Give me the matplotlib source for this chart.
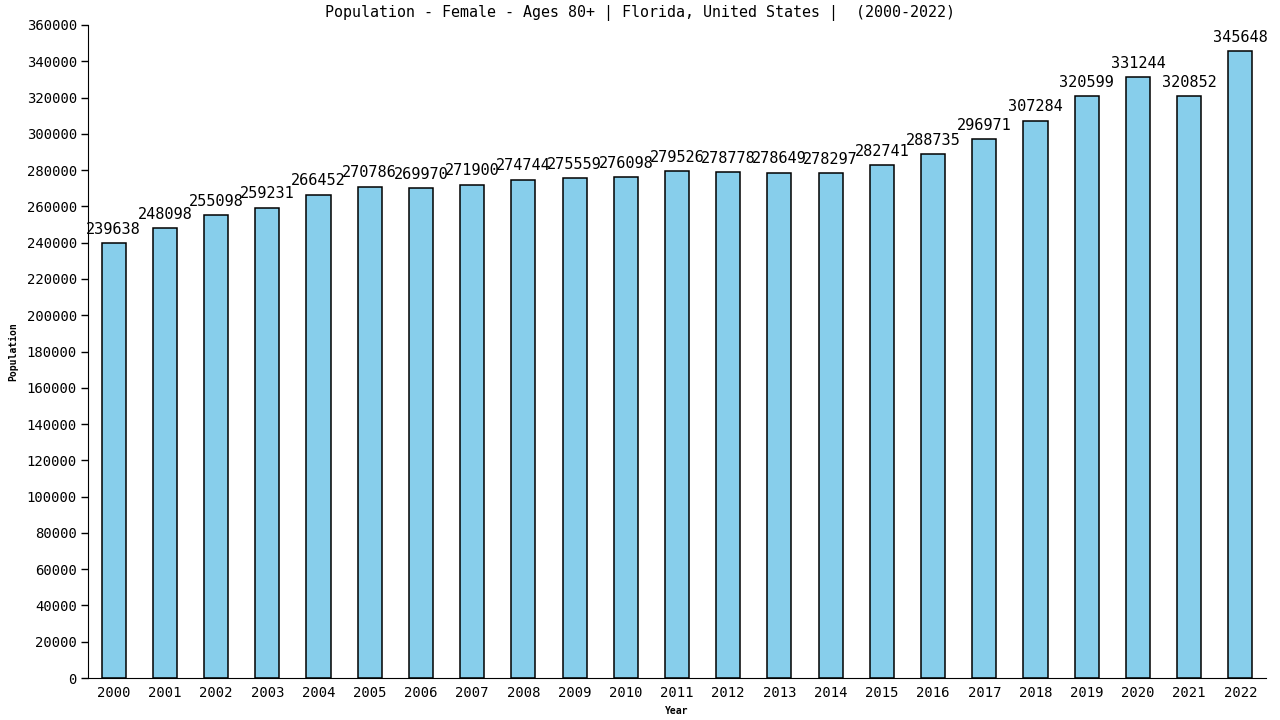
import matplotlib.pyplot as plt
import numpy as np

years = [str(y) for y in range(2000, 2023)]
population = [239638, 248098, 255098, 259231, 266452, 270786, 269970, 271900,
              274744, 275559, 276098, 279526, 278778, 278649, 278297, 282741,
              288735, 296971, 307284, 320599, 331244, 320852, 345648]
y_ticks = list(range(0, 360001, 20000))

plt.rcParams['font.family'] = ['DejaVu Sans Mono']

fig = plt.figure(figsize=(12.8, 7.2), dpi=100)
ax = fig.add_axes([88 / 1280, 42 / 720, 1178 / 1280, 653 / 720])

x = np.arange(len(years))
ax.bar(x, population, width=0.47, color='#87CEEB', edgecolor='black', linewidth=1.1)

for xi, v in zip(x, population):
    ax.text(xi, v + 3500, str(v), ha='center', va='bottom', fontsize=11)

ax.set_xlim(-0.5, len(years) - 0.5)
ax.set_ylim(0, 360000)
ax.set_yticks(y_ticks)
ax.set_yticklabels([str(t) for t in y_ticks], fontsize=10)
ax.set_xticks(x)
ax.set_xticklabels(years, fontsize=10)
ax.tick_params(axis='x', length=0, pad=6)
ax.tick_params(axis='y', length=5, width=1, pad=3)

for side in ['top', 'right']:
    ax.spines[side].set_visible(False)

fig.text(0.5, 1 - 13 / 720, 'Population - Female - Ages 80+ | Florida, United States |  (2000-2022)',
         ha='center', va='center', fontsize=10.8)
ax.set_xlabel('Year', fontsize=7, fontweight='bold', labelpad=4)
ax.set_ylabel('Population', fontsize=7, fontweight='bold', labelpad=6)

fig.savefig('out.png', dpi=100)
